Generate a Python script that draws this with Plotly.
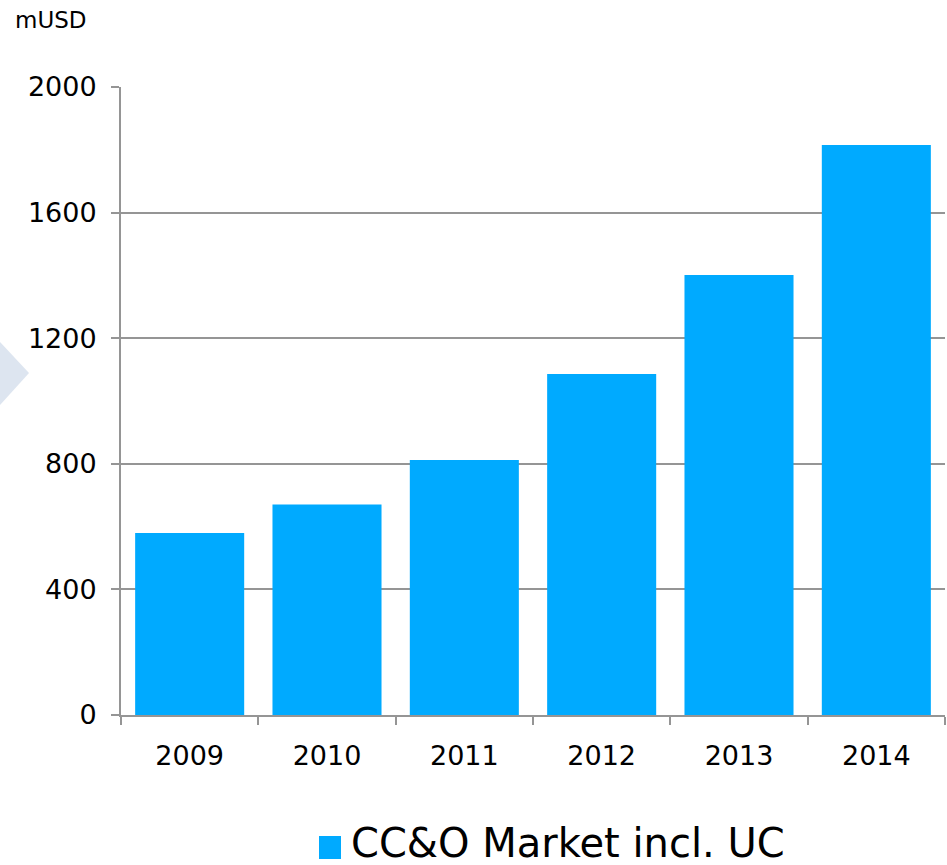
import plotly.graph_objects as go

# Market size by year (million USD)
years = ["2009", "2010", "2011", "2012", "2013", "2014"]
market_musd = [580, 670, 812, 1086, 1401, 1815]
series_name = "CC&O Market incl. UC"
y_ticks = [0, 400, 800, 1200, 1600, 2000]

BAR_COLOR = "#00AAFF"
GRID_COLOR = "#959595"
FONT = "DejaVu Sans, Verdana, sans-serif"

W, H = 947, 865
ML, MR, MT, MB = 121, 2, 87, 150
plot_w = W - ML - MR
plot_h = H - MT - MB


def px_x(px):
    return (px - ML) / plot_w


def px_y(py):
    return (H - MB - py) / plot_h


fig = go.Figure(
    go.Bar(
        x=years,
        y=market_musd,
        name=series_name,
        marker=dict(color=BAR_COLOR, line=dict(width=0)),
        showlegend=False,
    )
)

fig.update_layout(
    width=W,
    height=H,
    margin=dict(l=ML, r=MR, t=MT, b=MB),
    paper_bgcolor="white",
    plot_bgcolor="white",
    bargap=0.206,
    font=dict(family=FONT, color="#000000", size=27),
    xaxis=dict(
        showline=True,
        linecolor=GRID_COLOR,
        linewidth=2,
        ticks="outside",
        ticklen=8,
        tickwidth=2,
        tickcolor=GRID_COLOR,
        tickson="boundaries",
        ticklabelstandoff=16,
        tickfont=dict(size=27),
        showgrid=False,
        zeroline=False,
    ),
    yaxis=dict(
        range=[0, 2000],
        tickvals=y_ticks,
        showline=True,
        linecolor=GRID_COLOR,
        linewidth=2,
        ticks="outside",
        ticklen=8,
        tickwidth=2,
        tickcolor=GRID_COLOR,
        ticklabelstandoff=9,
        tickfont=dict(size=27),
        showgrid=True,
        gridcolor=GRID_COLOR,
        gridwidth=2,
        zeroline=False,
    ),
    shapes=[
        # pale chevron tip on the left edge
        dict(
            type="path",
            xref="paper",
            yref="paper",
            path=f"M {px_x(0)} {px_y(342)} L {px_x(29)} {px_y(373)} L {px_x(0)} {px_y(405)} Z",
            fillcolor="#DDE5F0",
            line=dict(width=0),
            layer="below",
        ),
        # legend swatch
        dict(
            type="rect",
            xref="paper",
            yref="paper",
            x0=px_x(319),
            x1=px_x(341),
            y0=px_y(859),
            y1=px_y(836),
            fillcolor=BAR_COLOR,
            line=dict(width=0),
        ),
    ],
    annotations=[
        dict(
            text="mUSD",
            xref="paper",
            yref="paper",
            x=px_x(13),
            y=px_y(20),
            xanchor="left",
            yanchor="middle",
            showarrow=False,
            font=dict(size=23, family=FONT, color="#000000"),
        ),
        dict(
            text=series_name,
            xref="paper",
            yref="paper",
            x=px_x(349),
            y=px_y(843),
            xanchor="left",
            yanchor="middle",
            showarrow=False,
            font=dict(size=40, family=FONT, color="#000000"),
        ),
    ],
)

fig.write_html("out.html")
